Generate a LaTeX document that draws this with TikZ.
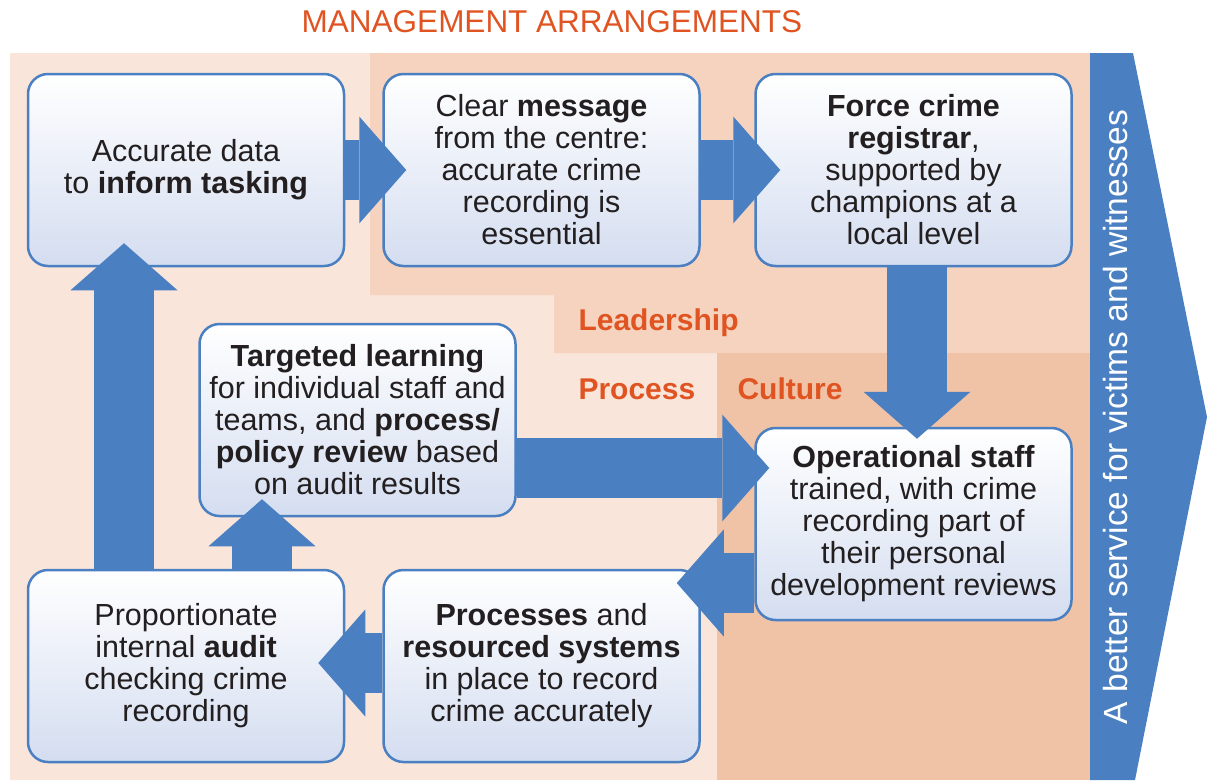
\documentclass[tikz,border=0pt]{standalone}
\usepackage{fontspec}
\setmainfont{Liberation Sans}
\usetikzlibrary{
  arrows.meta,
  calc,
  positioning
}
\definecolor{processbg}{RGB}{249,229,218}
\definecolor{leaderbg}{RGB}{245,211,191}
\definecolor{culturebg}{RGB}{240,194,166}
\definecolor{flowblue}{RGB}{74,128,194}
\definecolor{boxblue}{RGB}{212,221,240}
\definecolor{mgmtorange}{RGB}{224,84,34}
\definecolor{inkdark}{RGB}{35,31,32}

\begin{document}
\begin{tikzpicture}[x=1pt, y=-1pt,
  stepbox/.style={draw=flowblue, line width=2.5pt, rounded corners=20pt,
    top color=white, middle color=white, bottom color=boxblue,
    minimum width=316pt, minimum height=192pt, inner sep=0pt,
    align=center, text=inkdark, font=\fontsize{30.5}{32}\selectfont},
  bigarrow/.style={draw=flowblue, line width=60pt,
    -{Triangle[width=107pt, length=47pt, line width=0pt]}},
  arealabel/.style={anchor=base west, text=mgmtorange,
    font=\fontsize{30}{32}\selectfont\bfseries}]
  \useasboundingbox (0,0) rectangle (1213,780);

  % Areas
  \fill[processbg] (10,53) rectangle (1090,780);
  \fill[leaderbg] (370,53) -- (1090,53) -- (1090,353) -- (554,353)
    -- (554,295) -- (370,295) -- cycle;
  \fill[culturebg] (717,353) rectangle (1090,780);
  \fill[flowblue] (1090,53) -- (1133,53) -- (1207,417) -- (1135,780)
    -- (1090,780) -- cycle;

  % Titles
  \node[text=mgmtorange, font=\fontsize{31.5}{34}\selectfont] (mgmt) at (552,22)
    {MANAGEMENT ARRANGEMENTS};
  \node[rotate=90, anchor=base, text=white, font=\fontsize{33.5}{36}\selectfont]
    (service) at (1127,417) {A better service for victims and witnesses};
  \node[arealabel] (leadership) at (575,330) {Leadership};
  \node[arealabel] (process) at (575,399) {Process};
  \node[arealabel] (culture) at (734,399) {Culture};

  % Boxes
  \node[stepbox] (data) at (186,170)
    {Accurate data\\ to \textbf{inform tasking}};
  \node[stepbox] (message) at (541.5,170)
    {Clear \textbf{message}\\ from the centre:\\ accurate crime\\ recording is\\ essential};
  \node[stepbox] (registrar) at (913.5,170)
    {\textbf{Force crime}\\ \textbf{registrar},\\ supported by\\ champions at a\\ local level};
  \node[stepbox] (learning) at (357.5,420)
    {\textbf{Targeted learning}\\ for individual staff and\\ teams, and \textbf{process/}\\ \textbf{policy review} based\\ on audit results};
  \node[stepbox] (staff) at (913.5,524)
    {\textbf{Operational staff}\\ trained, with crime\\ recording part of\\ their personal\\ development reviews};
  \node[stepbox] (systems) at (541.5,666)
    {\textbf{Processes} and\\ \textbf{resourced systems}\\ in place to record\\ crime accurately};
  \node[stepbox] (audit) at (186,666)
    {Proportionate\\ internal \textbf{audit}\\ checking crime\\ recording};

  % Flow
  \draw[bigarrow, shorten >=-24pt] (data.east) -- (message.west);
  \draw[bigarrow, shorten >=-26pt] (message.east) -- (registrar.west);
  \draw[bigarrow, shorten >=-12pt] ([xshift=3.5pt]registrar.south)
    -- ([xshift=3.5pt]registrar.south |- staff.north);
  \draw[bigarrow, shorten >=-15pt] ([yshift=-48pt]learning.east)
    -- ([yshift=-48pt]learning.east -| staff.west);
  \draw[bigarrow, shorten >=-24pt] ([yshift=-59pt]staff.west)
    -- ([yshift=-59pt]staff.west -| systems.east);
  \draw[bigarrow, shorten >=-27pt] ([yshift=3pt]systems.west)
    -- ([yshift=3pt]systems.west -| audit.east);
  \draw[bigarrow, shorten >=-24pt] ([xshift=-62pt]audit.north)
    -- ([xshift=-62pt]audit.north |- data.south);
  \draw[bigarrow, shorten >=-18pt] ([xshift=76pt]audit.north)
    -- ([xshift=76pt]audit.north |- learning.south);
\end{tikzpicture}
\end{document}
